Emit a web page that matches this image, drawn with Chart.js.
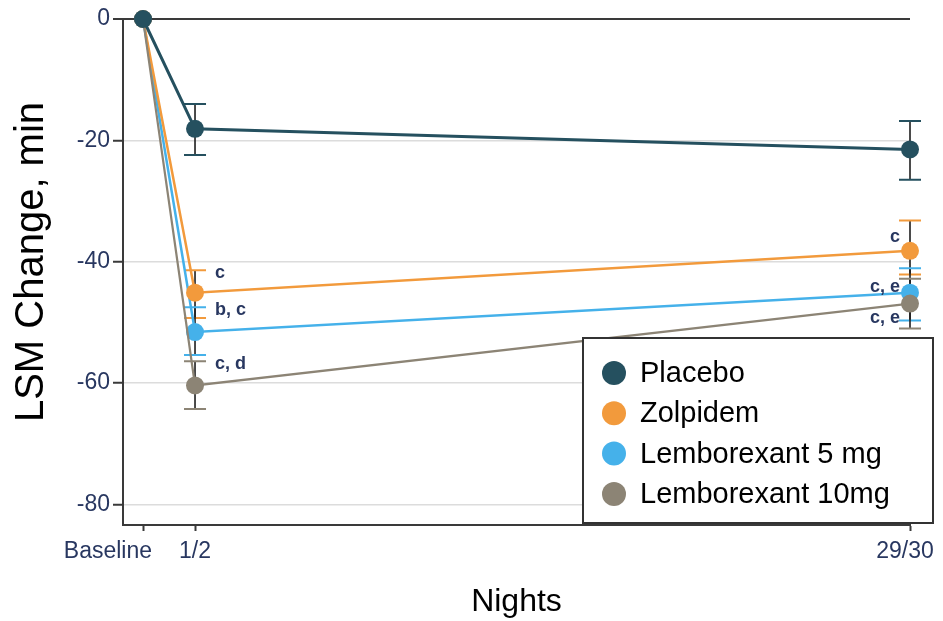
<!DOCTYPE html>
<html>
<head>
<meta charset="utf-8">
<script src="https://cdn.jsdelivr.net/npm/chart.js@4/dist/chart.umd.min.js"></script>
<style>
  html, body { margin: 0; padding: 0; background: #fff; }
  #wrap { width: 943px; height: 621px; position: relative; }
</style>
</head>
<body>
<div id="wrap"><canvas id="chart" width="943" height="621"></canvas></div>
<script>
// Nights on the x axis and where each one sits on the numeric scale
const nightLabels = ['Baseline', '1/2', '29/30'];
const nightPos = [0, 1, 14.75];
const yTickValues = [0, -20, -40, -60, -80];

const seriesNames = ['Placebo', 'Zolpidem', 'Lemborexant 5 mg', 'Lemborexant 10mg'];

// LSM change from baseline (min) with 95% CI bounds
const placebo     = [0, -18.1, -21.5];
const placeboLow  = [null, -22.4, -26.5];
const placeboHigh = [null, -14.0, -16.8];

const zolpidem     = [0, -45.1, -38.2];
const zolpidemLow  = [null, -49.3, -42.1];
const zolpidemHigh = [null, -41.4, -33.2];

const lem5     = [0, -51.6, -45.1];
const lem5Low  = [null, -55.4, -49.7];
const lem5High = [null, -47.5, -41.1];

const lem10     = [0, -60.4, -46.9];
const lem10Low  = [null, -64.3, -51.0];
const lem10High = [null, -56.4, -42.8];

// Significance footnote letters per point
const placeboNotes  = [null, null, null];
const zolpidemNotes = [null, 'c', 'c'];
const lem5Notes     = [null, 'b, c', 'c, e'];
const lem10Notes    = [null, 'c, d', 'c, e'];

const seriesColors = ['#25505f', '#f29a3c', '#45b1ea', '#8c8475'];

const tickFont = '"Liberation Sans", Arial, sans-serif';
const tickColor = '#283760';
const axisColor = '#3a3a3a';

function toPoints(values) {
  return values.map((v, i) => ({ x: nightPos[i], y: v }));
}

const seriesValues = [placebo, zolpidem, lem5, lem10];
const seriesLow = [placeboLow, zolpidemLow, lem5Low, lem10Low];
const seriesHigh = [placeboHigh, zolpidemHigh, lem5High, lem10High];
const seriesNotes = [placeboNotes, zolpidemNotes, lem5Notes, lem10Notes];
const drawOrder = [0, 2, 3, 1];
const lineWidths = [3, 2.5, 2.5, 2.2];

const datasets = seriesNames.map((name, k) => ({
  label: name,
  data: toPoints(seriesValues[k]),
  low: seriesLow[k],
  high: seriesHigh[k],
  notes: seriesNotes[k],
  borderColor: seriesColors[k],
  backgroundColor: seriesColors[k],
  pointBackgroundColor: seriesColors[k],
  pointBorderColor: seriesColors[k],
  pointRadius: 9,
  pointBorderWidth: 0,
  borderWidth: lineWidths[k],
  tension: 0,
  clip: false,
  order: drawOrder[k]
}));

// Confidence interval whiskers, drawn under the lines and markers
const errorBars = {
  id: 'errorBars',
  beforeDatasetsDraw(chart) {
    const { ctx, scales: { x, y } } = chart;
    ctx.save();
    chart.data.datasets.forEach((ds) => {
      ds.data.forEach((pt, i) => {
        const lo = ds.low[i], hi = ds.high[i];
        if (lo == null || hi == null) return;
        const px = x.getPixelForValue(pt.x);
        const yLo = y.getPixelForValue(lo);
        const yHi = y.getPixelForValue(hi);
        ctx.strokeStyle = '#1e1e1e';
        ctx.lineWidth = 1.6;
        ctx.beginPath();
        ctx.moveTo(px, yHi);
        ctx.lineTo(px, yLo);
        ctx.stroke();
        ctx.strokeStyle = ds.borderColor;
        ctx.lineWidth = 2;
        ctx.beginPath();
        ctx.moveTo(px - 11, yHi); ctx.lineTo(px + 11, yHi);
        ctx.moveTo(px - 11, yLo); ctx.lineTo(px + 11, yLo);
        ctx.stroke();
      });
    });
    ctx.restore();
  }
};

// Footnote letters beside the points
const noteLabels = {
  id: 'noteLabels',
  afterDatasetsDraw(chart, args, opts) {
    const { ctx, scales: { x, y } } = chart;
    ctx.save();
    ctx.font = 'bold 18px ' + tickFont;
    ctx.fillStyle = tickColor;
    ctx.textBaseline = 'middle';
    chart.data.datasets.forEach((ds, k) => {
      ds.data.forEach((pt, i) => {
        const txt = ds.notes[i];
        if (!txt) return;
        const px = x.getPixelForValue(pt.x);
        if (i === 1) {
          ctx.textAlign = 'left';
          ctx.fillText(txt, px + 20, y.getPixelForValue(ds.high[i]) + 3);
        } else {
          ctx.textAlign = 'right';
          ctx.fillText(txt, px - 10, y.getPixelForValue(pt.y) + opts.lastDy[k]);
        }
      });
    });
    ctx.restore();
  }
};

// Night labels under the x ticks, and the rotated y-axis title
const axisText = {
  id: 'axisText',
  afterDraw(chart) {
    const { ctx, scales: { x, y } } = chart;
    ctx.save();
    ctx.font = '23px ' + tickFont;
    ctx.fillStyle = tickColor;
    ctx.textBaseline = 'middle';
    const ty = x.top + 27;
    nightLabels.forEach((lab, i) => {
      const px = x.getPixelForValue(nightPos[i]);
      if (i === 0) {
        ctx.textAlign = 'right';
        ctx.fillText(lab, px + 9, ty);
      } else if (i === nightLabels.length - 1) {
        ctx.textAlign = 'center';
        ctx.fillText(lab, px - 5, ty);
      } else {
        ctx.textAlign = 'center';
        ctx.fillText(lab, px, ty);
      }
    });
    ctx.restore();

    ctx.save();
    ctx.translate(32, (y.top + y.bottom) / 2 - 10);
    ctx.rotate(-Math.PI / 2);
    ctx.font = '40px ' + tickFont;
    ctx.fillStyle = '#000';
    ctx.textAlign = 'center';
    ctx.textBaseline = 'middle';
    ctx.fillText('LSM Change, min', 0, 0);
    ctx.restore();
  }
};

// Boxed legend in the lower right of the plot
const boxLegend = {
  id: 'boxLegend',
  afterDraw(chart) {
    const { ctx } = chart;
    const bx = 583, by = 338, bw = 350, bh = 185;
    ctx.save();
    ctx.fillStyle = '#fff';
    ctx.fillRect(bx, by, bw, bh);
    ctx.strokeStyle = '#333';
    ctx.lineWidth = 2;
    ctx.strokeRect(bx, by, bw, bh);
    ctx.font = '29px "Liberation Sans", Arial, sans-serif';
    ctx.textBaseline = 'middle';
    ctx.textAlign = 'left';
    chart.data.datasets.forEach((ds, k) => {
      const cy = by + 35 + k * 40.3;
      ctx.fillStyle = ds.backgroundColor;
      ctx.beginPath();
      ctx.arc(bx + 31, cy, 12, 0, Math.PI * 2);
      ctx.fill();
      ctx.fillStyle = '#000';
      ctx.fillText(ds.label, bx + 57, cy + 1);
    });
    ctx.restore();
  }
};

new Chart(document.getElementById('chart'), {
  type: 'line',
  data: { datasets },
  plugins: [errorBars, noteLabels, axisText, boxLegend],
  options: {
    responsive: false,
    animation: false,
    events: [],
    layout: { padding: { top: 19, right: 33, left: 0, bottom: 0 } },
    plugins: {
      legend: { display: false },
      tooltip: { enabled: false },
      noteLabels: { lastDy: [0, -14, -6, 14] }
    },
    scales: {
      x: {
        type: 'linear',
        min: -0.385,
        max: nightPos[nightPos.length - 1],
        afterBuildTicks(scale) {
          scale.ticks = nightPos.map(v => ({ value: v }));
        },
        afterFit(scale) { scale.height = 96; },
        ticks: { display: false },
        grid: {
          drawOnChartArea: false,
          drawTicks: true,
          tickLength: 6,
          tickColor: axisColor,
          tickWidth: 2,
          color: axisColor
        },
        border: { display: true, color: axisColor, width: 2 },
        title: {
          display: true,
          text: 'Nights',
          color: '#000',
          font: { family: tickFont, size: 32 },
          padding: { top: 0, bottom: 0 }
        }
      },
      y: {
        type: 'linear',
        min: -83.4,
        max: 0,
        afterBuildTicks(scale) {
          scale.ticks = yTickValues.map(v => ({ value: v }));
        },
        afterFit(scale) { scale.width = 123; },
        ticks: {
          color: tickColor,
          font: { family: tickFont, size: 23 },
          padding: 3,
          callback: (v) => String(v)
        },
        grid: {
          drawTicks: true,
          tickLength: 10,
          tickColor: axisColor,
          tickWidth: 2,
          color: (c) => (c.tick && c.tick.value === 0 ? axisColor : '#dcdcdc'),
          lineWidth: (c) => (c.tick && c.tick.value === 0 ? 2 : 1.5)
        },
        border: { display: true, color: axisColor, width: 2 },
        title: { display: false }
      }
    }
  }
});
</script>
</body>
</html>
